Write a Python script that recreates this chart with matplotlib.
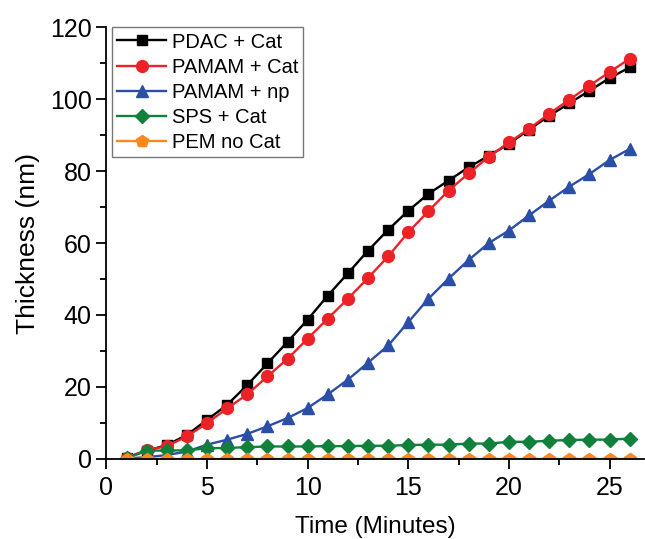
import numpy as np
import matplotlib
matplotlib.use("Agg")
import matplotlib.pyplot as plt

plt.rcParams['font.family'] = ['Liberation Sans', 'DejaVu Sans']

# deposition time (minutes)
minutes = np.arange(1, 27)

pdac_cat = [0.3, 2.2, 3.8, 6.6, 10.8, 15.0, 20.5, 26.5, 32.5, 38.7, 45.4, 51.6, 57.9,
            63.7, 69.0, 73.7, 77.4, 81.1, 84.3, 87.6, 91.6, 95.4, 98.9, 102.4, 105.9, 108.9]
pamam_cat = [0.3, 2.4, 3.5, 6.2, 9.9, 14.0, 17.9, 22.9, 27.8, 33.4, 39.0, 44.5, 50.3,
             56.3, 63.0, 68.9, 74.6, 79.4, 84.0, 88.0, 91.8, 96.0, 99.9, 103.8, 107.6, 111.3]
pamam_np = [0.1, 0.4, 1.0, 2.0, 3.9, 5.3, 6.9, 9.0, 11.3, 14.1, 17.9, 22.0, 26.7,
            31.5, 38.0, 44.5, 50.1, 55.3, 60.0, 63.5, 67.7, 71.8, 75.7, 79.2, 83.1, 86.2]
sps_cat = [0.2, 2.2, 2.3, 2.3, 2.9, 3.0, 3.2, 3.4, 3.4, 3.4, 3.5, 3.5, 3.6,
           3.6, 3.8, 3.9, 3.9, 4.2, 4.2, 4.7, 4.7, 5.0, 5.2, 5.3, 5.3, 5.6]
pem_nocat = [0.0] * 26

labels = ['PDAC + Cat', 'PAMAM + Cat', 'PAMAM + np', 'SPS + Cat', 'PEM no Cat']

fig = plt.figure(figsize=(6.45, 5.39), dpi=100)
ax = fig.add_axes([0.165, 0.149, 0.833, 0.800])

ax.plot(minutes, pdac_cat, '-s', color='black', lw=1.7, ms=7.5, label=labels[0])
ax.plot(minutes, pamam_cat, '-o', color='#ec2227', lw=1.7, ms=8.5, label=labels[1])
ax.plot(minutes, pamam_np, '-^', color='#2b4ea6', lw=1.7, ms=8.5, label=labels[2])
ax.plot(minutes, sps_cat, '-D', color='#10803b', lw=1.7, ms=7, label=labels[3])
ax.plot(minutes, pem_nocat, '-p', color='#f7891f', lw=1.7, ms=9, label=labels[4])

ax.set_xlim(0, 26.7)
ax.set_ylim(0, 120)
ax.set_xticks(np.arange(0, 26, 5))
ax.set_xticks(np.arange(2.5, 26, 5), minor=True)
ax.set_yticks(np.arange(0, 121, 20))
ax.set_yticks(np.arange(10, 120, 20), minor=True)

for side in ['top', 'right']:
    ax.spines[side].set_visible(False)
for side in ['left', 'bottom']:
    ax.spines[side].set_linewidth(1.3)

ax.tick_params(which='major', direction='out', length=7, width=1.3, labelsize=18)
ax.tick_params(which='minor', direction='out', length=4.3, width=1.3)
ax.tick_params(axis='x', which='major', pad=5.5)
ax.tick_params(axis='y', which='major', pad=3.5)

ax.set_xlabel('Time (Minutes)', fontsize=17.5, labelpad=11.5)
ax.set_ylabel('Thickness (nm)', fontsize=19, labelpad=7)

leg = ax.legend(loc='upper left', bbox_to_anchor=(0.011, 1.0), fontsize=14.5,
                frameon=True, fancybox=False, handlelength=2.4, handletextpad=0.3,
                labelspacing=0.3, borderpad=0.25, borderaxespad=0)
leg.get_frame().set_edgecolor('#555555')
leg.get_frame().set_linewidth(1.0)

fig.savefig('out.png', dpi=100)
